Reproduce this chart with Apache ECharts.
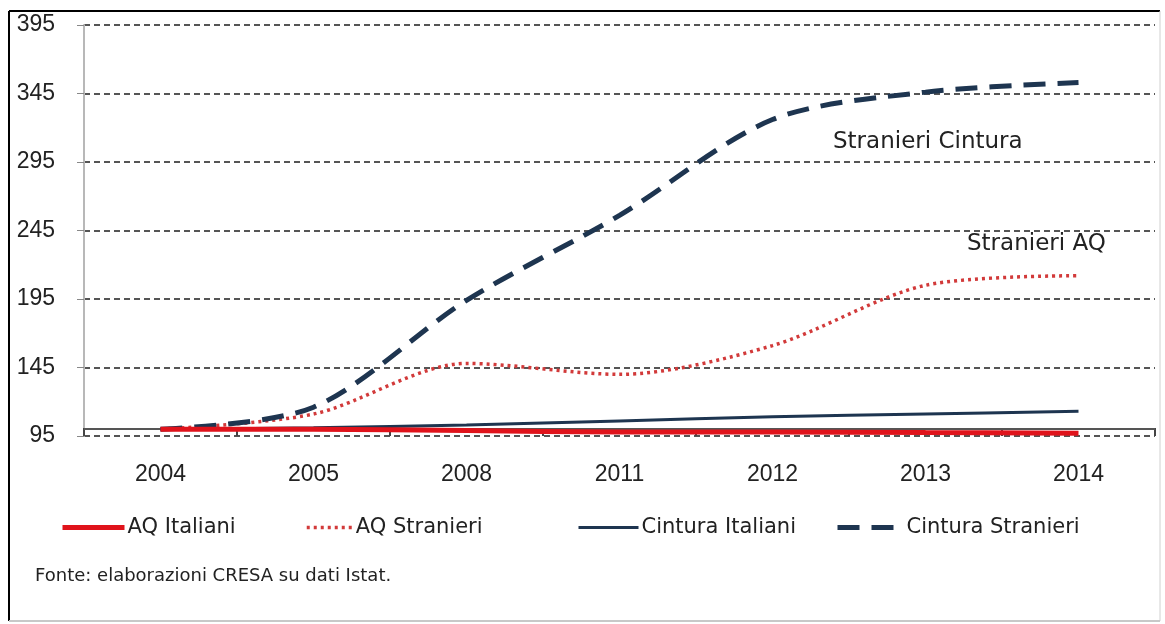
<!DOCTYPE html>
<html>
<head>
<meta charset="utf-8">
<title>Popolazione residente: AQ e Cintura (2004 = 100)</title>
<script src="https://cdn.jsdelivr.net/npm/echarts@6/dist/echarts.min.js"></script>
<style>
  html, body { margin: 0; padding: 0; background: #ffffff; }
  #chart { width: 1165px; height: 624px; }
</style>
</head>
<body>
<div id="chart"></div>
<script>
// Years on the category axis
const years = ['2004', '2005', '2008', '2011', '2012', '2013', '2014'];

// Index numbers, 2004 = 100
const aqItaliani       = [100, 100, 99, 98, 98, 97.5, 97];
const aqStranieri      = [100, 111, 148, 140, 161, 205, 212];
const cinturaItaliani  = [100, 101, 103, 106, 109, 111, 113];
const cinturaStranieri = [100, 116, 194, 256, 326, 346, 353];

// Value-axis ticks
const yTicks = [95, 145, 195, 245, 295, 345, 395];
// Level where the category axis crosses
const baseLevel = 100;

const sourceNote = 'Fonte: elaborazioni CRESA su dati Istat.';

const textFont = '"DejaVu Sans", sans-serif';
const numFont = '"Liberation Sans", Arial, sans-serif';

const RED = '#e0131b';
const RED_DOT = '#d23a3a';
const NAVY = '#1e3550';

const styles = {
  aqItaliani:       { color: RED, width: 5, type: 'solid' },
  aqStranieri:      { color: RED_DOT, width: 3.5, type: [3, 4] },
  cinturaItaliani:  { color: NAVY, width: 3, type: 'solid' },
  cinturaStranieri: { color: NAVY, width: 5, type: [22, 12] }
};

const chart = echarts.init(document.getElementById('chart'), null, { renderer: 'canvas' });

// one legend block per series, each with its own key length
function legendAt(name, left, width, line) {
  return {
    data: [name],
    left: left,
    top: 512,
    itemWidth: width,
    itemHeight: 10,
    itemGap: 0,
    itemStyle: { opacity: 0 },
    lineStyle: { color: line.color, width: line.width, type: line.type },
    textStyle: { fontFamily: textFont, fontSize: 21, color: '#222', padding: [0, 0, 0, -2] },
    selectedMode: false
  };
}

chart.setOption({
  backgroundColor: '#ffffff',
  animation: false,
  grid: { left: 84, right: 10, top: 25, bottom: 188, containLabel: false },
  xAxis: {
    type: 'category',
    data: years,
    boundaryGap: true,
    axisLine: { show: false },
    axisTick: { show: true, inside: true, length: 8, lineStyle: { color: '#444', width: 2 } },
    axisLabel: { margin: 27, fontFamily: numFont, fontSize: 23, color: '#222' },
    splitLine: { show: false }
  },
  yAxis: {
    type: 'value',
    min: 95,
    max: 395,
    axisLine: { show: true, lineStyle: { color: '#b8b8b8', width: 2 } },
    axisTick: { show: true, length: 7, customValues: yTicks, lineStyle: { color: '#888', width: 1 } },
    axisLabel: { customValues: yTicks, margin: 29, fontFamily: numFont, fontSize: 23, color: '#222' },
    splitLine: { show: true, lineStyle: { color: '#555', width: 2, type: [6, 4] } }
  },
  legend: [
    legendAt('AQ Italiani', 55, 62, styles.aqItaliani),
    legendAt('AQ Stranieri', 300, 46, styles.aqStranieri),
    legendAt('Cintura Italiani', 572, 60, styles.cinturaItaliani),
    legendAt('Cintura Stranieri', 830, 66, styles.cinturaStranieri)
  ],
  series: [
    {
      name: 'AQ Italiani',
      type: 'line',
      data: aqItaliani,
      smooth: 0.35,
      symbol: 'none',
      lineStyle: styles.aqItaliani,
      itemStyle: { color: RED },
      z: 4,
      markLine: {
        silent: true,
        symbol: 'none',
        label: { show: false },
        lineStyle: { color: '#555', width: 2, type: 'solid' },
        data: [{ yAxis: baseLevel }],
        z: 1
      }
    },
    {
      name: 'AQ Stranieri',
      type: 'line',
      data: aqStranieri,
      smooth: 0.3,
      symbol: 'none',
      lineStyle: styles.aqStranieri,
      itemStyle: { color: RED_DOT },
      z: 3
    },
    {
      name: 'Cintura Italiani',
      type: 'line',
      data: cinturaItaliani,
      smooth: 0.35,
      symbol: 'none',
      lineStyle: styles.cinturaItaliani,
      itemStyle: { color: NAVY },
      z: 3
    },
    {
      name: 'Cintura Stranieri',
      type: 'line',
      data: cinturaStranieri,
      smooth: 0.3,
      symbol: 'none',
      lineStyle: styles.cinturaStranieri,
      itemStyle: { color: NAVY },
      z: 3
    }
  ],
  graphic: [
    // outer frame
    { type: 'line', shape: { x1: 9, y1: 11, x2: 1160, y2: 11 }, style: { stroke: '#000', lineWidth: 2 } },
    { type: 'line', shape: { x1: 9, y1: 11, x2: 9, y2: 621 }, style: { stroke: '#000', lineWidth: 2 } },
    { type: 'line', shape: { x1: 1160, y1: 11, x2: 1160, y2: 621 }, style: { stroke: '#d0d0d0', lineWidth: 1 } },
    { type: 'line', shape: { x1: 9, y1: 621, x2: 1160, y2: 621 }, style: { stroke: '#c8c8c8', lineWidth: 2 } },
    // series annotations
    { type: 'text', left: 833, top: 131, style: { text: 'Stranieri Cintura', fontFamily: textFont, fontSize: 23, fill: '#222' } },
    { type: 'text', left: 967, top: 233, style: { text: 'Stranieri AQ', fontFamily: textFont, fontSize: 23, fill: '#222' } },
    // source note
    { type: 'text', left: 35, top: 567, style: { text: sourceNote, fontFamily: textFont, fontSize: 18, fill: '#222' } }
  ]
});
</script>
</body>
</html>
